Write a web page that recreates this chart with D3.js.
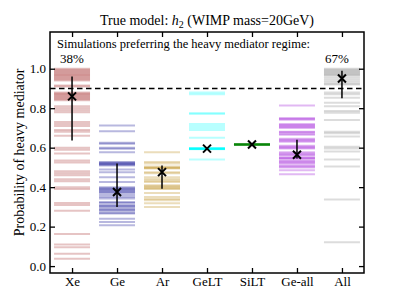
<!DOCTYPE html>
<html>
<head>
<meta charset="utf-8">
<script src="https://cdn.jsdelivr.net/npm/d3@7"></script>
<style>
    body { margin: 0; background: #fff; }
    text { font-family: "Liberation Serif", "DejaVu Serif", serif; }
</style>
</head>
<body>
<div id="chart"></div>
<script>
// categories along x
let categories = ['Xe', 'Ge', 'Ar', 'GeLT', 'SiLT', 'Ge-all', 'All'];
let colors = ['#a52a2a', '#00008b', '#b8860b', '#00ffff', '#008000', '#9400d3', '#808080'];

// probability of heavy mediator, one value per simulation
let xeProb = [1.0, 0.995, 0.99, 0.985, 0.98, 0.975, 0.97, 0.965, 0.96, 0.955, 0.95, 0.945, 0.94,
    0.915, 0.91, 0.88, 0.875, 0.87, 0.865, 0.86, 0.855, 0.85, 0.845, 0.84,
    0.81, 0.8, 0.79, 0.78, 0.73, 0.72, 0.71, 0.69, 0.68, 0.66,
    0.6, 0.59, 0.57, 0.535, 0.525, 0.48, 0.47, 0.46, 0.44, 0.43, 0.4, 0.39,
    0.32, 0.31, 0.28, 0.163, 0.11, 0.096, 0.062, 0.037];
let geProb = [0.712, 0.683, 0.625, 0.62, 0.6, 0.595, 0.577, 0.527, 0.523, 0.52, 0.517, 0.513, 0.51,
    0.49, 0.476, 0.45, 0.426, 0.40, 0.395, 0.39, 0.385, 0.38, 0.375, 0.37, 0.36, 0.35, 0.343,
    0.325, 0.32, 0.31, 0.305, 0.3, 0.29, 0.285, 0.28, 0.27, 0.266, 0.24, 0.224, 0.207];
let arProb = [0.577, 0.527, 0.52, 0.505, 0.50, 0.497, 0.495, 0.476, 0.47, 0.45, 0.44, 0.433, 0.426,
    0.41, 0.405, 0.40, 0.395, 0.39, 0.37, 0.35, 0.34, 0.333, 0.318, 0.3];
let geltProb = [0.88, 0.87, 0.775, 0.77, 0.72, 0.71, 0.70, 0.69, 0.65,
    0.597, 0.596, 0.595, 0.594, 0.593, 0.592, 0.597, 0.595, 0.593, 0.596, 0.594, 0.54];
let siltProb = [0.618, 0.617, 0.616, 0.615, 0.614, 0.618, 0.616, 0.614, 0.617, 0.615];
let geAllProb = [0.813, 0.75, 0.745, 0.742, 0.72, 0.715, 0.71, 0.705, 0.70, 0.68, 0.678, 0.67, 0.665,
    0.645, 0.64, 0.635, 0.63, 0.61, 0.605, 0.60, 0.596, 0.577, 0.57, 0.565, 0.56, 0.55, 0.547,
    0.545, 0.535, 0.53, 0.525, 0.52, 0.51, 0.505, 0.50, 0.485, 0.465];
let allProb = [1.0, 0.995, 0.99, 0.985, 0.98, 0.975, 0.97, 0.965, 0.955, 0.945, 0.935, 0.925, 0.92,
    0.88, 0.87, 0.853, 0.828, 0.81, 0.786, 0.777, 0.74, 0.68, 0.673, 0.657, 0.605, 0.596,
    0.58, 0.54, 0.504, 0.337, 0.121];

// median and spread
let medians = [0.86, 0.375, 0.476, 0.595, 0.616, 0.564, 0.95];
let errLow = [0.636, 0.30, 0.392, 0.595, 0.616, 0.545, 0.85];
let errHigh = [0.96, 0.52, 0.51, 0.595, 0.616, 0.64, 0.99];

let yTicks = [0.0, 0.2, 0.4, 0.6, 0.8, 1.0];
let threshold = 0.9;
let percentLabels = [{i: 0, text: '38%'}, {i: 6, text: '67%'}];

class StripVis {

    constructor(parentElement) {
        this.parentElement = parentElement;
        this.probs = [xeProb, geProb, arProb, geltProb, siltProb, geAllProb, allProb];
        this.initVis();
    }

    initVis() {
        let vis = this;

        vis.width = 405;
        vis.height = 304;
        vis.frame = {left: 50, right: 364, top: 32, bottom: 273};

        vis.svg = d3.select("#" + vis.parentElement).append("svg")
            .attr("width", vis.width)
            .attr("height", vis.height);

        vis.x = d3.scaleLinear().domain([-0.49, 6.49]).range([vis.frame.left, vis.frame.right]);
        vis.y = d3.scaleLinear().domain([-0.035, 1.186]).range([vis.frame.bottom, vis.frame.top]);

        // title
        let title = vis.svg.append('text')
            .attr('x', (vis.frame.left + vis.frame.right) / 2)
            .attr('y', 25)
            .attr('text-anchor', 'middle')
            .attr('font-size', '14px');
        title.append('tspan').text('True model: ');
        title.append('tspan').attr('font-style', 'italic').text('h');
        title.append('tspan').attr('font-size', '10px').attr('dy', 3).text('2');
        title.append('tspan').attr('dy', -3).text(' (WIMP mass=20GeV)');

        vis.updateVis();
    }

    updateVis() {
        let vis = this;
        let halfW = 0.4;

        // simulation lines
        vis.probs.forEach((arr, i) => {
            vis.svg.append('g')
                .selectAll('line')
                .data(arr)
                .enter()
                .append('line')
                .attr('x1', vis.x(i - halfW))
                .attr('x2', vis.x(i + halfW))
                .attr('y1', d => vis.y(d))
                .attr('y2', d => vis.y(d))
                .attr('stroke', colors[i])
                .attr('stroke-width', 2)
                .attr('stroke-opacity', 0.28);
        });

        // threshold line
        vis.svg.append('line')
            .attr('x1', vis.frame.left).attr('x2', vis.frame.right)
            .attr('y1', vis.y(threshold)).attr('y2', vis.y(threshold))
            .attr('stroke', '#000')
            .attr('stroke-width', 1.5)
            .attr('stroke-dasharray', '5.5,3.5');

        // error bars
        vis.svg.append('g')
            .selectAll('line')
            .data(categories)
            .enter()
            .append('line')
            .attr('x1', (d, i) => vis.x(i))
            .attr('x2', (d, i) => vis.x(i))
            .attr('y1', (d, i) => vis.y(errLow[i]))
            .attr('y2', (d, i) => vis.y(errHigh[i]))
            .attr('stroke', '#000')
            .attr('stroke-width', 1.5);

        // median markers
        let s = 4;
        vis.svg.append('g')
            .selectAll('path')
            .data(medians)
            .enter()
            .append('path')
            .attr('d', (d, i) => {
                let cx = vis.x(i), cy = vis.y(d);
                return `M${cx - s},${cy - s}L${cx + s},${cy + s}M${cx - s},${cy + s}L${cx + s},${cy - s}`;
            })
            .attr('stroke', '#000')
            .attr('stroke-width', 2);

        // frame
        vis.svg.append('rect')
            .attr('x', vis.frame.left)
            .attr('y', vis.frame.top)
            .attr('width', vis.frame.right - vis.frame.left)
            .attr('height', vis.frame.bottom - vis.frame.top)
            .attr('fill', 'none')
            .attr('stroke', '#000')
            .attr('stroke-width', 1.5);

        // axes, ticks inward
        let yAxisL = d3.axisLeft(vis.y).tickValues(yTicks).tickSizeInner(-5).tickSizeOuter(0)
            .tickPadding(4).tickFormat(d3.format('.1f'));
        let yAxisR = d3.axisRight(vis.y).tickValues(yTicks).tickSizeInner(-5).tickSizeOuter(0)
            .tickFormat('');
        let xAxisB = d3.axisBottom(vis.x).tickValues(d3.range(categories.length)).tickSizeInner(-5)
            .tickSizeOuter(0).tickPadding(4).tickFormat(i => categories[i]);
        let xAxisT = d3.axisTop(vis.x).tickValues(d3.range(categories.length)).tickSizeInner(-5)
            .tickSizeOuter(0).tickFormat('');

        let gl = vis.svg.append('g').attr('transform', `translate(${vis.frame.left},0)`).call(yAxisL);
        let gr = vis.svg.append('g').attr('transform', `translate(${vis.frame.right},0)`).call(yAxisR);
        let gb = vis.svg.append('g').attr('transform', `translate(0,${vis.frame.bottom})`).call(xAxisB);
        let gt = vis.svg.append('g').attr('transform', `translate(0,${vis.frame.top})`).call(xAxisT);

        [gl, gr, gb, gt].forEach(g => {
            g.select('.domain').remove();
            g.selectAll('.tick line').attr('stroke', '#000').attr('stroke-width', 1.3);
            g.selectAll('.tick text')
                .attr('fill', '#000')
                .style('font-family', '"Liberation Serif", serif')
                .attr('font-size', '13px');
        });

        // y label
        vis.svg.append('text')
            .attr('transform', `translate(24,${(vis.frame.top + vis.frame.bottom) / 2}) rotate(-90)`)
            .attr('text-anchor', 'middle')
            .attr('font-size', '14px')
            .text('Probability of heavy mediator');

        // annotations
        vis.svg.append('text')
            .attr('x', 57)
            .attr('y', 48)
            .attr('font-size', '12.5px')
            .text('Simulations preferring the heavy mediator regime:');

        vis.svg.selectAll('.pct')
            .data(percentLabels)
            .enter()
            .append('text')
            .attr('class', 'pct')
            .attr('x', d => vis.x(d.i) - (d.i === 6 ? 5 : 0))
            .attr('y', 63)
            .attr('text-anchor', 'middle')
            .attr('font-size', '13px')
            .text(d => d.text);
    }
}

new StripVis('chart');
</script>
</body>
</html>
